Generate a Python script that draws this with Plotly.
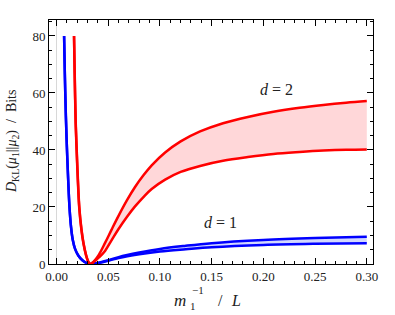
import plotly.graph_objects as go

# ---- data ----
blue_x = [0.0073, 0.0080, 0.0090, 0.0100, 0.0112, 0.0125, 0.0140, 0.0157, 0.0180, 0.0210,
          0.0250, 0.0290, 0.0320, 0.0340, 0.0400, 0.0500, 0.0600, 0.0800, 0.1000, 0.1250,
          0.1500, 0.2000, 0.2500, 0.3000]
blue_upper = [80.0, 67.0, 52.0, 41.0, 30.0, 20.0, 13.0, 8.4, 5.2, 3.0,
              1.3, 0.35, 0.02, 0.03, 0.35, 1.3, 2.4, 4.0, 5.3, 6.4,
              7.3, 8.4, 9.1, 9.6]
blue_lower = [80.0, 67.0, 52.0, 41.0, 30.0, 20.0, 13.0, 8.4, 5.2, 3.0,
              1.3, 0.35, 0.02, 0.03, 0.3, 1.15, 2.1, 3.4, 4.4, 5.2,
              5.9, 6.7, 7.1, 7.3]

red_x = [0.0169, 0.0175, 0.0185, 0.0195, 0.0205, 0.0220, 0.0240, 0.0260, 0.0285, 0.0305,
         0.0324, 0.0345, 0.0372, 0.0410, 0.0469, 0.0530, 0.0598, 0.0680, 0.0759, 0.0840,
         0.0920, 0.1050, 0.1200, 0.1388, 0.1610, 0.1850, 0.2097, 0.2350, 0.2580, 0.2800,
         0.3000]
red_upper = [80.0, 68.0, 50.0, 40.0, 31.0, 20.0, 12.5, 7.5, 3.2, 1.0,
             0.05, 0.4, 1.4, 3.3, 7.4, 11.9, 16.8, 22.3, 27.0, 31.1,
             34.6, 39.1, 43.0, 46.5, 49.4, 51.6, 53.4, 54.8, 55.8, 56.6,
             57.2]
red_lower = [80.0, 67.0, 49.0, 39.0, 30.0, 19.4, 12.1, 7.2, 3.1, 0.95,
             0.05, 0.3, 1.1, 2.3, 4.6, 8.2, 12.2, 16.5, 20.2, 23.5,
             26.3, 29.6, 32.3, 34.4, 36.2, 37.5, 38.6, 39.3, 39.8, 40.1,
             40.2]

labels = ["<i>d</i> = 1", "<i>d</i> = 2"]
label_x = [0.159, 0.213]
label_y = [14.5, 61.3]

x_ticks = [0.00, 0.05, 0.10, 0.15, 0.20, 0.25, 0.30]
y_ticks = [0, 20, 40, 60, 80]

SERIF = "Liberation Serif, Times New Roman, serif"
TXT = "#222222"

fig = go.Figure()
line_kw = dict(shape="spline", smoothing=1.0, width=2.5)
fig.add_trace(go.Scatter(x=blue_x, y=blue_upper, mode="lines",
                         line=dict(color="rgb(0,0,255)", **line_kw), showlegend=False))
fig.add_trace(go.Scatter(x=blue_x, y=blue_lower, mode="lines", fill="tonexty",
                         fillcolor="rgb(210,215,255)",
                         line=dict(color="rgb(0,0,255)", **line_kw), showlegend=False))
fig.add_trace(go.Scatter(x=red_x, y=red_upper, mode="lines",
                         line=dict(color="rgb(255,0,0)", **line_kw), showlegend=False))
fig.add_trace(go.Scatter(x=red_x, y=red_lower, mode="lines", fill="tonexty",
                         fillcolor="rgb(255,215,217)",
                         line=dict(color="rgb(255,0,0)", **line_kw), showlegend=False))

for t, xx, yy in zip(labels, label_x, label_y):
    fig.add_annotation(x=xx, y=yy, text=t, showarrow=False,
                       xanchor="center", yanchor="middle",
                       font=dict(family=SERIF, size=16, color=TXT))

L, R, T, B = 49, 373, 20, 264  # plot area in page pixels


def paper_text(text, px, py, size, angle=0):
    fig.add_annotation(xref="paper", yref="paper",
                       x=(px - L) / (R - L), y=(B - py) / (B - T),
                       xanchor="center", yanchor="middle", textangle=angle,
                       text=text, showarrow=False,
                       font=dict(family=SERIF, size=size, color=TXT))


# x-axis title: m_1^{-1} / L, with stacked sub/superscript
paper_text("<i>m</i>", 180, 300, 17)
paper_text("\u22121", 198, 290, 11)
paper_text("1", 193, 306, 11)
paper_text("/", 220, 300, 16)
paper_text("<i>L</i>", 236, 300, 16)
# y-axis title
paper_text("<i>D</i><sub>KL</sub>(<i>\u03bc</i><sub>1</sub>||<i>\u03bc</i><sub>2</sub>)  /  Bits",
           12, 142, 14, angle=-90)

axis_common = dict(showgrid=False, showline=True, linecolor="black", linewidth=1,
                   mirror="allticks", ticks="inside", ticklen=6, tickcolor="black",
                   automargin=False,
                   tickfont=dict(family=SERIF, size=13, color=TXT))
fig.update_xaxes(range=[-0.0073, 0.306], tickvals=x_ticks, tickformat=".2f",
                 zeroline=True, zerolinecolor="#d8d8d8", zerolinewidth=1,
                 minor=dict(ticks="inside", dtick=0.01, tick0=0, ticklen=3, tickcolor="black"),
                 **axis_common)
fig.update_yaxes(range=[0, 85.6], tickvals=y_ticks, zeroline=False,
                 minor=dict(ticks="inside", dtick=5, tick0=0, ticklen=3, tickcolor="black"),
                 **axis_common)

fig.update_layout(width=395, height=315, margin=dict(l=L, r=395 - R, t=T, b=315 - B),
                  plot_bgcolor="white", paper_bgcolor="white", hovermode=False,
                  font=dict(family=SERIF, color=TXT))

fig.write_html("out.html", config={"displayModeBar": False},
               post_script="document.body.style.margin='0';")
